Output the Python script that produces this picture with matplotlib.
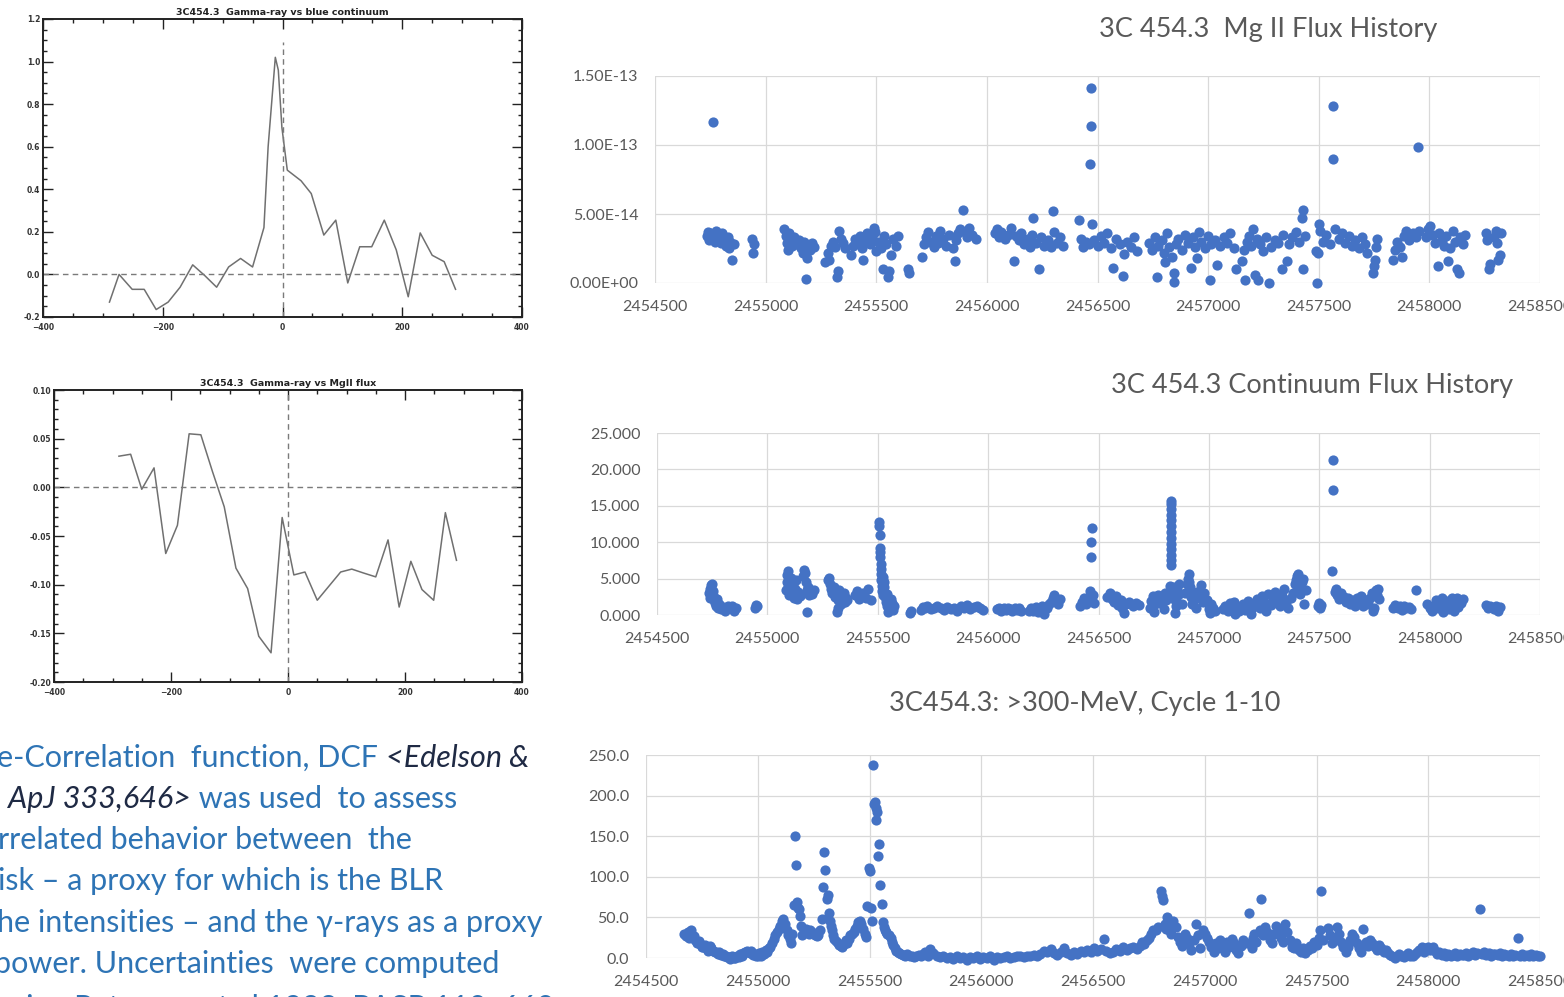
import numpy as np
import matplotlib
matplotlib.use("Agg")
import matplotlib.pyplot as plt
from matplotlib.ticker import MultipleLocator

# ---- DCF curves (lag in days, DCF value) ----
dcf_blue_lag = [-289, -273, -251, -231, -211, -191, -171, -150, -130, -110, -90, -70, -50,
                -31, -24, -12, -7, -1, 8, 31, 48, 69, 89, 109, 129, 149, 170, 190, 210,
                230, 250, 270, 289]
dcf_blue = [-0.13, 0.00, -0.07, -0.07, -0.165, -0.13, -0.06, 0.045, -0.005, -0.06, 0.035,
            0.075, 0.035, 0.22, 0.60, 1.02, 0.96, 0.69, 0.49, 0.44, 0.38, 0.185, 0.255,
            -0.04, 0.13, 0.13, 0.255, 0.115, -0.105, 0.195, 0.09, 0.06, -0.07]

dcf_mg_lag = [-289, -269, -250, -229, -209, -189, -169, -149, -129, -109, -89, -69, -50,
              -29, -10, 10, 29, 50, 90, 109, 129, 150, 171, 190, 210, 229, 249, 269, 288]
dcf_mg = [0.032, 0.034, -0.002, 0.020, -0.068, -0.039, 0.055, 0.054, 0.016, -0.020, -0.083,
          -0.104, -0.153, -0.170, -0.031, -0.090, -0.087, -0.116, -0.087, -0.084, -0.088,
          -0.092, -0.054, -0.123, -0.076, -0.105, -0.116, -0.026, -0.075]

# ---- light curves: (JD - 2450000, value) ----
JD0 = 2450000

# Mg II flux, units of 1e-14
mgii_points = [
    (4735, 3.4), (4740, 3.7), (4745, 3.1), (4750, 3.6), (4755, 3.3), (4760, 11.7), (4765, 3.5),
    (4770, 3.0), (4775, 3.8), (4780, 3.2), (4790, 3.4), (4800, 2.9), (4805, 3.6), (4815, 3.1),
    (4820, 2.7), (4830, 3.3), (4835, 2.5), (4840, 3.0), (4848, 1.7), (4855, 2.8),
    (4940, 3.2), (4945, 2.2), (4948, 2.8),
    (5085, 3.9), (5090, 3.4), (5095, 2.9), (5100, 2.4), (5105, 3.6), (5110, 3.1), (5120, 2.7),
    (5130, 3.3), (5140, 2.8), (5150, 3.1), (5160, 2.5), (5170, 2.2), (5175, 3.0), (5181, 0.3),
    (5185, 1.8), (5190, 2.7), (5200, 2.4), (5210, 2.9), (5220, 2.6),
    (5270, 1.5), (5280, 2.2), (5285, 1.7), (5295, 2.7), (5305, 3.0), (5315, 2.6), (5322, 0.4),
    (5326, 0.9), (5330, 3.8), (5340, 3.2), (5350, 2.9), (5360, 2.5),
    (5385, 2.0), (5395, 2.7), (5405, 3.2), (5415, 2.9), (5425, 3.4), (5435, 2.5), (5442, 1.7),
    (5450, 3.1), (5460, 3.6), (5470, 2.8), (5480, 3.3), (5490, 4.0), (5495, 3.7), (5500, 2.3),
    (5510, 3.0), (5520, 2.5), (5529, 1.0), (5535, 3.4), (5545, 2.8), (5555, 0.4), (5558, 0.9),
    (5565, 2.0), (5575, 3.2), (5590, 2.7), (5600, 3.4),
    (5645, 1.0), (5650, 0.7),
    (5709, 1.9), (5715, 2.8), (5725, 3.3), (5735, 3.7), (5745, 3.0), (5760, 2.6), (5770, 3.4),
    (5780, 2.9), (5790, 3.8), (5800, 3.2), (5815, 2.7), (5830, 3.5), (5845, 2.5), (5854, 1.6),
    (5860, 3.1), (5870, 3.6), (5880, 3.9), (5891, 5.3), (5900, 3.7), (5910, 3.3), (5920, 4.0),
    (5935, 3.5), (5950, 3.2),
    (6035, 3.6), (6045, 3.9), (6055, 3.3), (6065, 3.7), (6080, 3.2), (6095, 3.5), (6110, 4.0),
    (6124, 1.6), (6130, 3.4), (6145, 3.1), (6155, 3.6),
    (6170, 2.8), (6185, 3.2), (6195, 2.6), (6205, 3.5), (6210, 4.7), (6220, 2.9), (6234, 1.0),
    (6245, 3.3), (6260, 2.7), (6275, 3.1), (6290, 2.6), (6297, 5.2), (6305, 3.7), (6315, 2.9),
    (6330, 3.3), (6345, 2.7),
    (6415, 4.6), (6425, 3.2), (6435, 2.6), (6450, 3.0), (6460, 2.8), (6466, 8.6), (6471, 11.4),
    (6472, 14.1), (6475, 4.3), (6485, 3.1), (6500, 2.7), (6515, 3.4), (6530, 2.9), (6545, 3.6),
    (6560, 2.5), (6570, 1.1), (6585, 3.2), (6600, 2.8), (6616, 0.5), (6620, 2.1), (6635, 3.0),
    (6650, 2.6), (6665, 3.3), (6680, 2.3),
    (6735, 2.9), (6745, 2.4), (6760, 3.3), (6767, 0.4), (6775, 2.7), (6790, 3.1), (6800, 2.2),
    (6805, 1.5), (6815, 3.6), (6825, 2.6), (6835, 1.9), (6845, 0.7), (6848, 0.1), (6855, 2.8),
    (6865, 3.2), (6880, 2.4), (6895, 3.5), (6910, 2.9), (6921, 1.1), (6930, 3.3), (6940, 2.6),
    (6950, 1.8), (6960, 3.7), (6970, 3.0), (6985, 2.5), (7000, 3.4), (7008, 0.2), (7015, 2.8),
    (7030, 3.1), (7040, 1.3), (7055, 2.7), (7070, 3.3), (7085, 2.9), (7100, 3.6), (7115, 2.5),
    (7124, 1.0),
    (7153, 1.6), (7160, 2.4), (7167, 0.2), (7175, 3.0), (7185, 3.4), (7195, 2.7), (7205, 3.9),
    (7211, 0.6), (7220, 3.2), (7225, 0.2), (7235, 2.8), (7250, 2.3), (7260, 3.3), (7274, 0.0),
    (7285, 2.6), (7300, 3.1), (7315, 2.9), (7332, 1.0), (7340, 3.5), (7356, 1.6), (7365, 2.8),
    (7380, 3.3), (7395, 3.7), (7410, 3.0), (7425, 4.7), (7428, 5.3), (7430, 1.0), (7440, 3.4),
    (7486, 2.3), (7492, 0.0), (7495, 2.2), (7500, 4.3), (7505, 3.8), (7520, 3.0), (7535, 3.5),
    (7550, 2.8), (7564, 12.8), (7565, 9.0), (7575, 3.9), (7590, 3.2), (7605, 3.6), (7620, 2.9),
    (7635, 3.4), (7650, 2.7), (7665, 3.1), (7680, 2.5), (7695, 3.3), (7710, 2.8), (7720, 2.2),
    (7747, 0.7), (7750, 1.2), (7755, 1.7), (7761, 2.6), (7765, 3.2),
    (7835, 1.7), (7845, 2.4), (7855, 3.0), (7865, 2.6), (7877, 1.9), (7885, 3.4), (7895, 3.8),
    (7910, 3.1), (7925, 3.6), (7940, 3.3), (7950, 9.85), (7955, 3.8),
    (7985, 3.3), (7995, 3.9), (8005, 4.1), (8015, 3.5), (8025, 2.9), (8037, 1.2), (8045, 3.6),
    (8055, 3.1), (8065, 2.7), (8075, 3.4), (8086, 1.6), (8095, 2.5), (8105, 3.8), (8115, 3.0),
    (8124, 1.0), (8132, 0.7), (8140, 3.3), (8150, 2.8), (8160, 3.5),
    (8255, 3.6), (8262, 3.1), (8268, 1.0), (8275, 1.4), (8290, 3.3), (8300, 3.8), (8305, 2.9),
    (8312, 1.7), (8318, 2.0), (8325, 3.6),
]

# continuum flux
cont_points = [
    (4735, 3.0), (4738, 2.4), (4742, 3.6), (4745, 4.1), (4748, 4.3), (4752, 3.3), (4755, 2.7),
    (4758, 2.0), (4762, 1.6), (4766, 1.2), (4770, 2.2), (4775, 1.0), (4780, 1.5), (4790, 0.8),
    (4800, 1.1), (4810, 0.6), (4820, 1.3), (4830, 0.9), (4840, 1.2), (4850, 0.5), (4860, 1.0),
    (4945, 0.9), (4948, 1.4), (4952, 1.2),
    (5085, 3.4), (5088, 4.5), (5090, 5.5), (5092, 6.0), (5095, 3.9), (5100, 2.8), (5105, 5.1),
    (5110, 3.0), (5115, 4.2), (5120, 2.4), (5125, 3.6), (5130, 4.8), (5135, 2.2), (5140, 3.1),
    (5150, 2.6), (5160, 5.3), (5165, 6.2), (5170, 5.8), (5175, 4.5), (5178, 3.5), (5181, 0.4),
    (5185, 3.8), (5190, 2.7), (5195, 3.2), (5200, 2.9), (5210, 3.5),
    (5275, 4.8), (5280, 5.1), (5285, 4.2), (5290, 3.6), (5295, 3.0), (5300, 3.9), (5305, 2.5),
    (5310, 3.3), (5315, 0.4), (5318, 1.0), (5320, 2.0), (5325, 3.5), (5330, 2.8), (5335, 1.5),
    (5340, 2.3), (5345, 3.0), (5350, 1.8), (5355, 2.4), (5360, 2.0),
    (5395, 2.8), (5405, 3.3), (5415, 2.2), (5425, 2.6), (5435, 3.0), (5445, 2.4), (5455, 3.6),
    (5470, 2.1),
    (5505, 12.8), (5507, 12.2), (5508, 11.0), (5510, 9.2), (5511, 8.6), (5512, 8.0), (5513, 7.0),
    (5514, 6.3), (5515, 5.6), (5516, 4.8), (5518, 4.0), (5520, 3.3), (5522, 2.7), (5524, 5.2),
    (5527, 4.5), (5530, 3.8), (5533, 2.5), (5536, 1.8), (5540, 1.2), (5543, 2.9), (5546, 0.4),
    (5550, 1.5), (5555, 0.9), (5560, 2.2), (5565, 1.6), (5570, 0.7), (5575, 1.3),
    (5645, 0.3), (5650, 0.6),
    (5695, 0.7), (5705, 1.1), (5715, 0.9), (5725, 1.2), (5740, 0.8), (5755, 1.0), (5770, 1.2),
    (5785, 0.9), (5800, 0.7), (5815, 1.1), (5830, 0.8), (5845, 1.0), (5860, 0.5), (5875, 1.2),
    (5890, 0.9), (5905, 1.4), (5920, 0.8), (5935, 1.1), (5950, 1.3), (5965, 0.9), (5975, 0.7),
    (6040, 0.8), (6050, 1.0), (6060, 0.6), (6070, 0.9), (6080, 0.7), (6090, 1.0), (6100, 0.8),
    (6110, 0.5), (6120, 0.9), (6130, 0.7), (6140, 1.0), (6150, 0.6),
    (6185, 0.5), (6195, 0.9), (6205, 0.6), (6215, 1.1), (6225, 0.4), (6235, 0.8), (6245, 1.3),
    (6255, 0.2), (6265, 1.0), (6275, 1.5), (6285, 1.8), (6295, 2.4), (6300, 2.8), (6305, 1.9),
    (6315, 1.5), (6325, 2.2),
    (6415, 1.2), (6425, 1.8), (6435, 2.4), (6445, 1.5), (6455, 2.0), (6462, 3.3), (6466, 8.0),
    (6468, 10.0), (6470, 12.0), (6475, 2.8), (6480, 1.6),
    (6540, 2.5), (6550, 3.0), (6560, 2.2), (6570, 1.8), (6580, 2.6), (6590, 1.4), (6600, 2.0),
    (6605, 0.9), (6615, 0.3), (6625, 1.5), (6640, 1.8), (6655, 1.2), (6670, 1.6), (6685, 1.4),
    (6735, 1.0), (6740, 1.9), (6745, 2.6), (6750, 0.4), (6755, 1.5), (6760, 2.2), (6770, 2.8),
    (6780, 1.7), (6790, 2.4), (6795, 0.8), (6800, 3.0), (6805, 2.0),
    (6830, 6.8), (6830, 7.6), (6830, 8.3), (6830, 9.0), (6830, 9.8), (6830, 10.6), (6830, 11.4),
    (6830, 12.2), (6830, 13.0), (6830, 13.8), (6830, 14.6), (6830, 15.3), (6830, 15.7),
    (6826, 4.0), (6833, 3.2), (6837, 2.5), (6840, 3.8), (6845, 2.0), (6850, 1.2), (6848, 0.3),
    (6855, 3.4), (6860, 2.8), (6865, 4.2),
    (6880, 1.5), (6890, 3.0), (6900, 4.2), (6905, 5.0), (6908, 5.7), (6912, 4.6), (6915, 3.8),
    (6920, 2.5), (6925, 1.5), (6930, 3.2), (6935, 2.2), (6940, 1.0), (6950, 2.8), (6960, 3.5),
    (6965, 4.1), (6970, 2.6), (6975, 1.8), (6980, 3.0), (6990, 2.0), (7000, 0.8), (7005, 0.3),
    (7010, 1.5), (7020, 1.0), (7030, 0.6),
    (7065, 0.8), (7075, 1.2), (7085, 0.5), (7095, 1.6), (7105, 0.9), (7115, 1.8), (7120, 0.2),
    (7125, 1.3), (7135, 0.6), (7145, 1.0), (7155, 1.5), (7165, 0.7), (7175, 1.9), (7185, 1.2),
    (7190, 0.1), (7195, 0.9),
    (7210, 1.5), (7220, 2.2), (7230, 1.0), (7240, 2.6), (7250, 1.8), (7260, 0.6), (7270, 2.9),
    (7280, 1.4), (7290, 2.2), (7300, 3.2), (7310, 2.0), (7320, 1.2), (7330, 2.6), (7340, 3.6),
    (7350, 1.8), (7360, 0.9), (7370, 2.3), (7380, 3.0), (7390, 4.2), (7395, 4.8), (7400, 5.3),
    (7405, 5.6), (7410, 3.9), (7415, 2.9), (7420, 4.5), (7425, 5.0), (7430, 1.5), (7440, 3.4),
    (7495, 1.2), (7500, 1.6), (7505, 1.0), (7510, 1.4), (7560, 6.0), (7562, 17.2), (7564, 21.3),
    (7570, 3.2), (7575, 3.6), (7580, 2.8), (7590, 2.2), (7600, 3.0), (7610, 2.5), (7620, 1.8),
    (7630, 2.4), (7640, 1.5), (7650, 2.0), (7660, 1.3), (7670, 2.3), (7680, 1.7), (7690, 2.6),
    (7700, 1.2), (7710, 2.0), (7720, 1.5), (7730, 2.4), (7740, 3.0), (7745, 0.5), (7748, 1.0),
    (7755, 3.4), (7760, 2.8), (7765, 3.6), (7770, 2.2),
    (7835, 1.0), (7845, 1.4), (7855, 0.9), (7865, 1.2), (7875, 0.7), (7885, 1.3), (7895, 1.0),
    (7905, 1.1), (7915, 0.8), (7940, 3.4),
    (7990, 1.5), (8000, 1.0), (8010, 0.6), (8020, 1.3), (8030, 2.0), (8040, 0.9), (8050, 1.6),
    (8055, 2.3), (8060, 0.4), (8070, 1.2), (8080, 1.9), (8090, 0.8), (8100, 2.3), (8105, 1.5),
    (8110, 0.5), (8120, 1.8), (8125, 2.4), (8130, 1.1), (8140, 1.6), (8150, 2.2),
    (8255, 1.4), (8265, 1.0), (8275, 1.3), (8290, 0.8), (8300, 1.2), (8310, 0.6), (8318, 1.1),
]

# gamma-ray flux >300 MeV
gamma_points = [
    (4671, 30), (4680, 27), (4686, 32), (4693, 25), (4700, 34), (4707, 28), (4714, 27), (4720, 22),
    (4729, 19), (4736, 21), (4743, 17), (4750, 14), (4757, 13), (4764, 16), (4771, 11), (4778, 9),
    (4786, 15), (4793, 12), (4800, 9), (4807, 7), (4814, 7), (4821, 5), (4828, 8), (4836, 4),
    (4843, 5), (4850, 3), (4857, 2), (4864, 1), (4871, 1), (4878, -1), (4885, 2), (4893, 0),
    (4900, 0), (4907, 3), (4914, 1), (4921, 5), (4929, 3), (4936, 6), (4943, 8), (4950, 9),
    (4957, 7), (4964, 6), (4971, 9), (4978, 4), (4986, 5), (4993, 2), (5000, 3), (5007, 6),
    (5014, 3), (5021, 8), (5029, 5), (5036, 10), (5043, 7), (5050, 12), (5057, 13), (5064, 18),
    (5071, 23), (5078, 28), (5086, 32), (5093, 36), (5100, 40), (5107, 45), (5114, 48), (5121, 42),
    (5129, 34), (5136, 28), (5143, 23), (5149, 19), (5155, 30), (5160, 65), (5166, 150), (5171, 114),
    (5177, 69), (5181, 62), (5186, 60), (5190, 52), (5194, 40), (5200, 28), (5207, 33), (5214, 36),
    (5222, 32), (5229, 30), (5236, 35), (5243, 32), (5250, 30), (5257, 28), (5264, 27), (5271, 28),
    (5278, 35), (5286, 48), (5291, 87), (5297, 131), (5303, 108), (5309, 73), (5314, 77), (5320, 56),
    (5325, 45), (5329, 40), (5333, 35), (5337, 28), (5343, 23), (5350, 21), (5357, 19), (5364, 16),
    (5371, 15), (5378, 14), (5386, 17), (5393, 22), (5400, 19), (5407, 24), (5414, 28), (5421, 30),
    (5429, 32), (5436, 36), (5443, 40), (5450, 44), (5457, 46), (5464, 42), (5471, 36), (5478, 30),
    (5486, 26), (5491, 64), (5496, 111), (5500, 107), (5506, 62), (5510, 45), (5514, 238), (5520, 190),
    (5523, 192), (5527, 185), (5531, 170), (5535, 180), (5540, 126), (5543, 141), (5549, 90),
    (5555, 66), (5560, 44), (5566, 38), (5571, 34), (5576, 32), (5580, 30), (5587, 28), (5594, 25),
    (5600, 20), (5606, 16), (5612, 12), (5619, 9), (5626, 7), (5633, 6), (5640, 5), (5650, 4),
    (5660, 3), (5670, 5), (5680, 2), (5690, 3), (5700, 1), (5710, 2), (5720, 4), (5730, 2),
    (5740, 5), (5750, 7), (5760, 3), (5771, 11), (5786, 6), (5800, 3), (5815, 1), (5830, 2),
    (5845, 0), (5860, 1), (5875, -1), (5890, 2), (5905, 0), (5920, 1), (5935, -2), (5950, 1),
    (5965, 0), (5980, 2), (5995, -1), (6010, 1), (6025, 0), (6040, 2), (6055, -2), (6070, 1),
    (6085, 0), (6100, 1), (6115, 2), (6130, 0), (6145, 1), (6160, 3), (6175, 2), (6190, 1),
    (6205, 3), (6220, 2), (6235, 4), (6250, 3), (6265, 5), (6280, 9), (6295, 7), (6310, 11),
    (6325, 6), (6340, 4), (6355, 8), (6370, 12), (6385, 6), (6400, 4), (6415, 7), (6430, 5),
    (6445, 9), (6460, 7), (6475, 10), (6490, 8), (6505, 12), (6520, 9), (6535, 11), (6550, 24),
    (6560, 9), (6575, 6), (6590, 8), (6605, 11), (6620, 9), (6635, 13), (6650, 10), (6665, 12),
    (6680, 14), (6695, 11), (6710, 15), (6720, 20), (6730, 17), (6740, 22), (6750, 25), (6760, 30),
    (6770, 35), (6780, 34), (6790, 38), (6805, 82), (6810, 76), (6815, 72), (6820, 42), (6825, 36),
    (6830, 50), (6835, 44), (6840, 35), (6850, 30), (6860, 45), (6870, 38), (6880, 26), (6890, 20),
    (6900, 15), (6910, 30), (6920, 25), (6930, 18), (6940, 10), (6950, 22), (6960, 42), (6970, 28),
    (6980, 12), (6990, 35), (7000, 30), (7010, 25), (7020, 20), (7030, 14), (7040, 8), (7050, 18),
    (7060, 12), (7070, 22), (7080, 15), (7090, 8), (7100, 20), (7110, 14), (7120, 24), (7130, 18),
    (7140, 10), (7150, 6), (7160, 15), (7170, 22), (7200, 55), (7190, 18), (7210, 12), (7215, 25),
    (7220, 30), (7230, 20), (7250, 73), (7245, 35), (7260, 28), (7270, 38), (7280, 32), (7290, 22),
    (7300, 18), (7310, 30), (7320, 40), (7330, 34), (7340, 25), (7350, 20), (7360, 42), (7370, 32),
    (7380, 22), (7390, 14), (7400, 12), (7410, 18), (7420, 10), (7430, 8), (7440, 12), (7450, 6),
    (7460, 10), (7470, 15), (7480, 12), (7490, 20), (7500, 16), (7510, 25), (7515, 35), (7520, 82),
    (7530, 22), (7550, 37), (7560, 28), (7570, 19), (7580, 25), (7590, 38), (7600, 30), (7610, 20),
    (7620, 14), (7630, 8), (7640, 14), (7650, 22), (7660, 30), (7670, 26), (7680, 18), (7690, 12),
    (7700, 8), (7710, 36), (7720, 20), (7730, 15), (7740, 22), (7750, 18), (7760, 14), (7770, 10),
    (7780, 16), (7790, 12), (7800, 8), (7810, 10), (7820, 6), (7830, 4), (7840, 2), (7850, 0),
    (7860, 3), (7870, 5), (7880, 2), (7890, 1), (7900, 4), (7910, 6), (7920, 3), (7930, 2),
    (7940, 5), (7950, 8), (7960, 10), (7970, 13), (7980, 8), (7990, 12), (8000, 14), (8010, 10),
    (8020, 13), (8030, 9), (8040, 5), (8050, 7), (8060, 4), (8070, 6), (8080, 3), (8090, 5),
    (8100, 2), (8110, 4), (8120, 6), (8130, 3), (8140, 5), (8150, 4), (8160, 4), (8170, 6),
    (8180, 3), (8190, 5), (8200, 7), (8210, 4), (8220, 6), (8230, 60), (8240, 5), (8250, 8),
    (8260, 4), (8270, 6), (8280, 3), (8290, 5), (8300, 5), (8310, 4), (8320, 6), (8330, 3),
    (8340, 5), (8350, 4), (8360, 2), (8370, 5), (8380, 3), (8390, 4), (8400, 25), (8410, 3),
    (8420, 5), (8430, 2), (8440, 4), (8450, 3), (8460, 5), (8470, 2), (8480, 4), (8490, 3),
    (8500, 2),
]

jd_ticks = [2454500, 2455000, 2455500, 2456000, 2456500, 2457000, 2457500, 2458000, 2458500]
jd_labels = ["2454500", "2455000", "2455500", "2456000", "2456500", "2457000", "2457500",
             "2458000", "2458500"]

mgii_yticks = [0, 5e-14, 1e-13, 1.5e-13]
mgii_ylabels = ["0.00E+00", "5.00E-14", "1.00E-13", "1.50E-13"]
cont_yticks = [0, 5, 10, 15, 20, 25]
cont_ylabels = ["0.000", "5.000", "10.000", "15.000", "20.000", "25.000"]
gamma_yticks = [0, 50, 100, 150, 200, 250]
gamma_ylabels = ["0.0", "50.0", "100.0", "150.0", "200.0", "250.0"]

text_lines = [
    [("e-Correlation  function, DCF ", "n"), ("<Edelson &", "i")],
    [("ApJ 333,646>", "i"), (" was used  to assess", "n")],
    [("rrelated behavior between  the", "n")],
    [("isk \u2013 a proxy for which is the BLR", "n")],
    [("he intensities \u2013 and the \u03b3-rays as a proxy", "n")],
    [("power. Uncertainties  were computed", "n")],
    [("using Peterson et al 1998, PASP 110, 660", "n")],
]

W, H = 1564, 997
fig = plt.figure(figsize=(W / 100, H / 100), dpi=100)
fig.patch.set_facecolor("white")


def rect(left, top, right, bottom):
    return [left / W, 1 - bottom / H, (right - left) / W, (bottom - top) / H]


def idl_panel(r, lag, dcf, title, ylim, ymin_step, yfmt, vline_top):
    ax = fig.add_axes(r)
    ax.plot(lag, dcf, color="#707070", lw=1.1)
    ax.axhline(0, color="#7a7a7a", lw=1.0, ls=(0, (4, 3)))
    ax.plot([0, 0], [ylim[0], vline_top], color="#7a7a7a", lw=1.0, ls=(0, (4, 3)))
    ax.set_xlim(-400, 400)
    ax.set_ylim(*ylim)
    ax.xaxis.set_major_locator(MultipleLocator(200))
    ax.xaxis.set_minor_locator(MultipleLocator(50))
    ax.yaxis.set_major_locator(MultipleLocator(0.2 if yfmt == "%.1f" else 0.05))
    ax.yaxis.set_minor_locator(MultipleLocator(ymin_step))
    ax.yaxis.set_major_formatter(plt.FormatStrFormatter(yfmt))
    ax.tick_params(which="both", direction="in", top=True, right=True,
                   color="#222222", width=1.0, labelsize=5.5)
    ax.tick_params(axis="x", pad=4)
    ax.tick_params(axis="y", pad=2)
    ax.tick_params(which="major", length=7)
    ax.tick_params(which="minor", length=3)
    for lab in ax.get_xticklabels() + ax.get_yticklabels():
        lab.set_fontweight("bold")
        lab.set_color("#333333")
    for s in ax.spines.values():
        s.set_linewidth(1.4)
        s.set_color("#222222")
    ax.set_title(title, fontsize=6.8, color="#222222", pad=3, fontweight="bold")
    return ax


idl_panel(rect(43, 19, 522, 317), dcf_blue_lag, dcf_blue,
          "3C454.3  Gamma-ray vs blue continuum", (-0.2, 1.2), 0.05, "%.1f", 1.09)
idl_panel(rect(54, 390, 522, 682), dcf_mg_lag, dcf_mg,
          "3C454.3  Gamma-ray vs MgII flux", (-0.2, 0.1), 0.01, "%.2f", 0.1)


def excel_panel(r, pts, scale, ylim, yticks, ylabels, title, title_xy):
    ax = fig.add_axes(r)
    t = np.array([p[0] for p in pts]) + JD0
    v = np.array([p[1] for p in pts]) * scale
    ax.scatter(t, v, s=54, color="#4472C4", linewidths=0, zorder=3, clip_on=False)
    ax.set_xlim(jd_ticks[0], jd_ticks[-1])
    ax.set_ylim(*ylim)
    ax.set_xticks(jd_ticks)
    ax.set_xticklabels(jd_labels)
    ax.set_yticks(yticks)
    ax.set_yticklabels(ylabels)
    ax.grid(True, color="#d9d9d9", lw=0.9)
    ax.set_axisbelow(True)
    for s in ax.spines.values():
        s.set_visible(False)
    ax.tick_params(length=0, labelsize=11.5, labelcolor="#595959", pad=12)
    for lab in ax.get_xticklabels() + ax.get_yticklabels():
        lab.set_family(["Lato", "DejaVu Sans"])
    fig.text(title_xy[0] / W, 1 - title_xy[1] / H, title, ha="center", va="center",
             fontsize=19.5, color="#595959", family=["Lato", "DejaVu Sans"])
    return ax


excel_panel(rect(655, 76, 1540, 283), mgii_points, 1e-14, (0, 1.5e-13),
            mgii_yticks, mgii_ylabels, "3C 454.3  Mg II Flux History", (1268, 30))
excel_panel(rect(657, 433, 1540, 615), cont_points, 1.0, (0, 25),
            cont_yticks, cont_ylabels, "3C 454.3 Continuum Flux History", (1312, 386))
excel_panel(rect(646, 755, 1540, 958), gamma_points, 1.0, (0, 250),
            gamma_yticks, gamma_ylabels, "3C454.3: >300-MeV, Cycle 1-10", (1085, 703))

# ---- text block (cut at the left edge like the slide) ----
renderer = fig.canvas.get_renderer()
line_starts = [-3, 8, -2, -2, -3, -6, -4]
baselines = [767, 808, 849, 890, 932, 973, 1017]
for parts, x0, yb in zip(text_lines, line_starts, baselines):
    x = x0
    for s, style in parts:
        txt = fig.text(x / W, 1 - yb / H, s, ha="left", va="baseline",
                       fontsize=22, family=["Lato", "DejaVu Sans"],
                       color="#2E74B5" if style == "n" else "#1f2a44",
                       style="italic" if style == "i" else "normal")
        x = txt.get_window_extent(renderer).x1

fig.savefig("out.png", dpi=100, facecolor="white")
